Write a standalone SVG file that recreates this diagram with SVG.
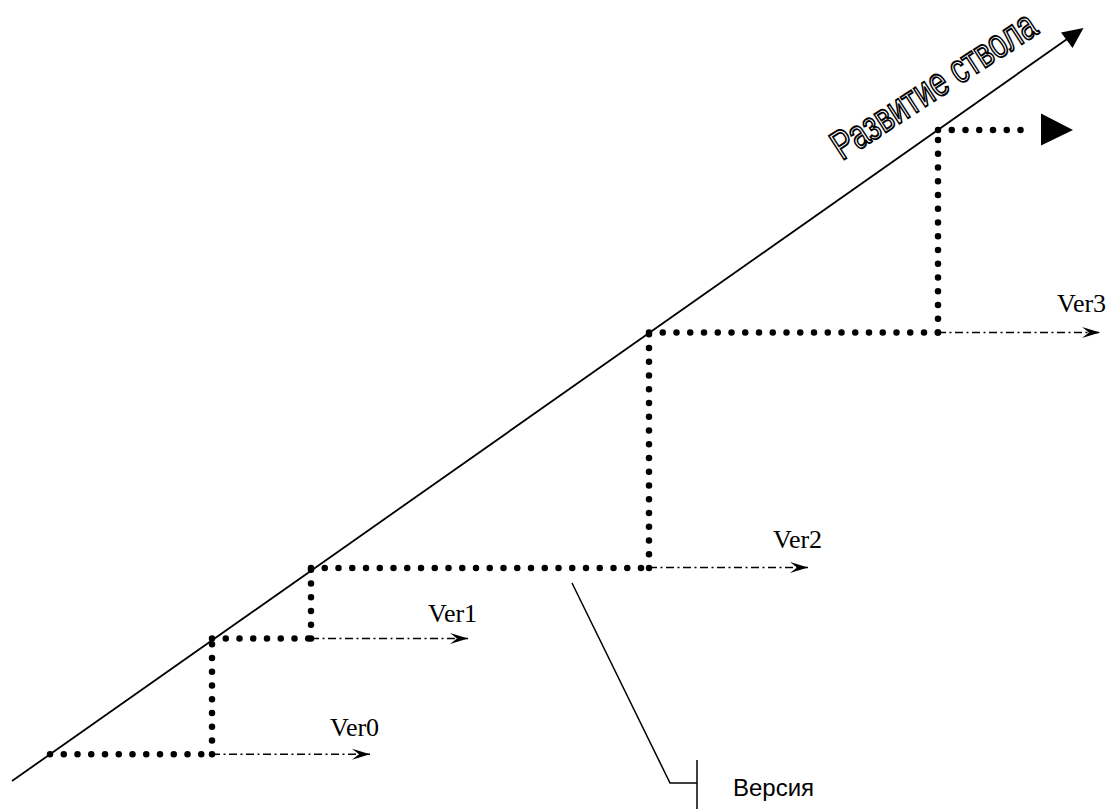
<svg xmlns="http://www.w3.org/2000/svg" width="1110" height="809" viewBox="0 0 1110 809">
  <style>
    .trunk { stroke: #000; stroke-width: 1.8; fill: none; }
    .dots { stroke: #000; stroke-width: 6.5; stroke-linecap: round; stroke-dasharray: 0 13.75; fill: none; }
    .branch { stroke: #000; stroke-width: 1.5; stroke-dasharray: 8 3.5 2 3.5; fill: none; marker-end: url(#stealth); }
    .callout { stroke: #000; stroke-width: 1.5; fill: none; }
    .ver { font-family: "Liberation Serif", "Times New Roman", serif; font-size: 26px; fill: #000; }
    .label { font-family: "Liberation Sans", Arial, sans-serif; font-size: 24px; fill: #000; }
    .title { font-family: "Liberation Sans", Arial, sans-serif; font-size: 41px; fill: #fff; stroke: #000; stroke-width: 1.9; }
  </style>
  <defs>
    <marker id="stealth" markerUnits="userSpaceOnUse" markerWidth="20" markerHeight="12" viewBox="-19 -6 20 12" refX="0" refY="0" orient="auto">
      <path d="M0,0 L-18,-5.5 L-11,0 L-18,5.5 Z" fill="#000"/>
    </marker>
  </defs>

  <!-- trunk line with its arrowhead -->
  <g id="trunk">
    <line class="trunk" x1="12" y1="781" x2="1070" y2="37"/>
    <polygon points="1083.5,28 1061,32.5 1072.5,48" fill="#000"/>
    <text class="title" transform="translate(842,161) rotate(-33)" textLength="236" lengthAdjust="spacingAndGlyphs">Развитие ствола</text>
  </g>

  <!-- dotted staircase and version branches -->
  <g id="connectors">
    <line class="dots" x1="50" y1="754.3" x2="212" y2="754.3"/>
    <line class="dots" x1="212" y1="754.3" x2="212" y2="638.5"/>
    <line class="dots" x1="212" y1="638.5" x2="311" y2="638.5"/>
    <line class="dots" x1="311" y1="638.5" x2="311" y2="568"/>
    <line class="dots" x1="311" y1="568" x2="649" y2="568"/>
    <line class="dots" x1="649" y1="568" x2="649" y2="332.5"/>
    <line class="dots" x1="649" y1="332.5" x2="938" y2="332.5"/>
    <line class="dots" x1="938" y1="332.5" x2="938" y2="130"/>
    <line class="dots" x1="938" y1="130" x2="1031" y2="130"/>
    <polygon points="1041,113.5 1073,130 1041,145.5" fill="#000"/>

    <line class="branch" x1="212" y1="754.3" x2="370" y2="754.3"/>
    <line class="branch" x1="311" y1="638.5" x2="468" y2="638.5"/>
    <line class="branch" x1="649" y1="567.5" x2="808" y2="567.5"/>
    <line class="branch" x1="938" y1="332.5" x2="1100" y2="332.5"/>

    <polyline class="callout" points="572,583 670,783 697,783"/>
    <line class="callout" x1="697" y1="760" x2="697" y2="809"/>
  </g>

  <g id="ver0"><text class="ver" x="330" y="736">Ver0</text></g>
  <g id="ver1"><text class="ver" x="428" y="621.5">Ver1</text></g>
  <g id="ver2"><text class="ver" x="773" y="548">Ver2</text></g>
  <g id="ver3"><text class="ver" x="1057" y="311.5">Ver3</text></g>
  <g id="version"><text class="label" x="733" y="796">Версия</text></g>
</svg>
